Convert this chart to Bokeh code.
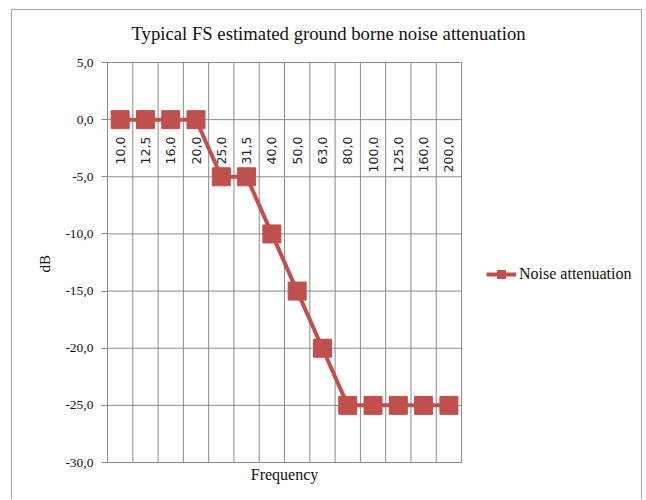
import numpy as np
from bokeh.plotting import figure
from bokeh.models import Range1d, FixedTicker, Legend, LegendItem, Title
from bokeh.embed import file_html
from bokeh.resources import INLINE
from bokeh.core.properties import value

title_text = "Typical FS estimated ground borne noise attenuation"
categories = ["10,0", "12,5", "16,0", "20,0", "25,0", "31,5", "40,0",
              "50,0", "63,0", "80,0", "100,0", "125,0", "160,0", "200,0"]
attenuation = [0, 0, 0, 0, -5, -5, -10, -15, -20, -25, -25, -25, -25, -25]
y_ticks = [5, 0, -5, -10, -15, -20, -25, -30]
y_tick_labels = ["5,0", "0,0", "-5,0", "-10,0", "-15,0", "-20,0", "-25,0", "-30,0"]
series_name = "Noise attenuation"
x_title = "Frequency"
y_title = "dB"

RED = "#C0504D"
GRID = "#8a8a8a"
TXT = "#111111"
N = len(categories)
Y_MIN, Y_MAX = -30, 5

xpos = np.arange(N) + 0.5

# geometry (px): the data frame covers the whole canvas right of the y axis
CANVAS_W, CANVAS_H = 631, 490
LEFT = 95
RIGHT_PAD = 3
PLOT_TOP = 52          # px from canvas top to the 5,0 line
PLOT_H = 400           # px between 5,0 and -30,0
CAT_PX = 25.29         # px per category
px_per_unit = PLOT_H / (Y_MAX - Y_MIN)
frame_w = CANVAS_W - LEFT - RIGHT_PAD
x_end = frame_w / CAT_PX
y_top = Y_MAX + PLOT_TOP / px_per_unit
y_bot = Y_MIN - (CANVAS_H - PLOT_TOP - PLOT_H) / px_per_unit

p = figure(width=CANVAS_W, height=CANVAS_H, output_backend="svg", toolbar_location=None,
           x_range=Range1d(0, x_end), y_range=Range1d(y_bot, y_top),
           x_axis_location=None,
           min_border_left=LEFT, min_border_top=0, min_border_right=RIGHT_PAD,
           min_border_bottom=0, outline_line_color=None)

p.styles = {"border-top": "1px solid #a6a6a6", "border-left": "1px solid #a6a6a6",
            "border-right": "1px solid #a6a6a6", "margin-left": "11px",
            "margin-top": "9px"}

# grid lines limited to the plot area
p.xgrid.grid_line_color = None
p.ygrid.grid_line_color = None
p.segment(x0=[0] * len(y_ticks), x1=[N] * len(y_ticks), y0=y_ticks, y1=y_ticks,
          line_color=GRID, line_width=1)
vx = list(range(N + 1))
p.segment(x0=vx, x1=vx, y0=[Y_MIN] * len(vx), y1=[Y_MAX] * len(vx),
          line_color=GRID, line_width=1)

# y axis
p.yaxis.ticker = FixedTicker(ticks=y_ticks)
p.yaxis.bounds = (Y_MIN, Y_MAX)
p.yaxis.major_label_overrides = {t: l for t, l in zip(y_ticks, y_tick_labels)}
p.yaxis.axis_line_color = GRID
p.yaxis.major_tick_line_color = GRID
p.yaxis.major_tick_out = 6
p.yaxis.major_tick_in = 0
p.yaxis.minor_tick_line_color = None
p.yaxis.major_label_text_font = "Liberation Serif"
p.yaxis.major_label_text_font_size = "13.5px"
p.yaxis.major_label_text_color = TXT
p.yaxis.major_label_standoff = 8

# y axis title, placed alongside the plot area
y_label = Title(text=y_title, align="left", offset=228, standoff=20,
                text_font="Liberation Serif", text_font_size="15px",
                text_font_style="normal", text_color=TXT)
p.add_layout(y_label, "left")

# chart title
p.text(x=[N / 2], y=[Y_MAX], text=[title_text], x_offset=44, y_offset=-29,
       text_align="center", text_baseline="middle",
       text_font=value("Liberation Serif"), text_font_size="18.7px", text_color=TXT)

# x axis title
p.text(x=[N / 2], y=[Y_MIN], text=[x_title], y_offset=12,
       text_align="center", text_baseline="middle",
       text_font=value("Liberation Serif"), text_font_size="16px", text_color=TXT)

# category labels at the y=0 crossing axis
p.text(x=xpos, y=[0] * N, text=categories, angle=np.pi / 2,
       text_align="right", text_baseline="middle", y_offset=17,
       text_font=value("DejaVu Sans"), text_font_size="12.5px", text_color="#222222")

ln = p.line(xpos, attenuation, line_width=4, color=RED)
sq = p.scatter(xpos, attenuation, marker="square", size=18, color=RED)

legend = Legend(items=[LegendItem(label=series_name, renderers=[ln, sq])],
                location=(379, 216), border_line_color=None,
                background_fill_alpha=0, label_text_font="Liberation Serif",
                label_text_font_size="16px", label_text_color=TXT,
                glyph_width=30, label_standoff=3, padding=0, margin=0)
p.add_layout(legend, "center")

open("out.html", "w").write(file_html(p, INLINE))
